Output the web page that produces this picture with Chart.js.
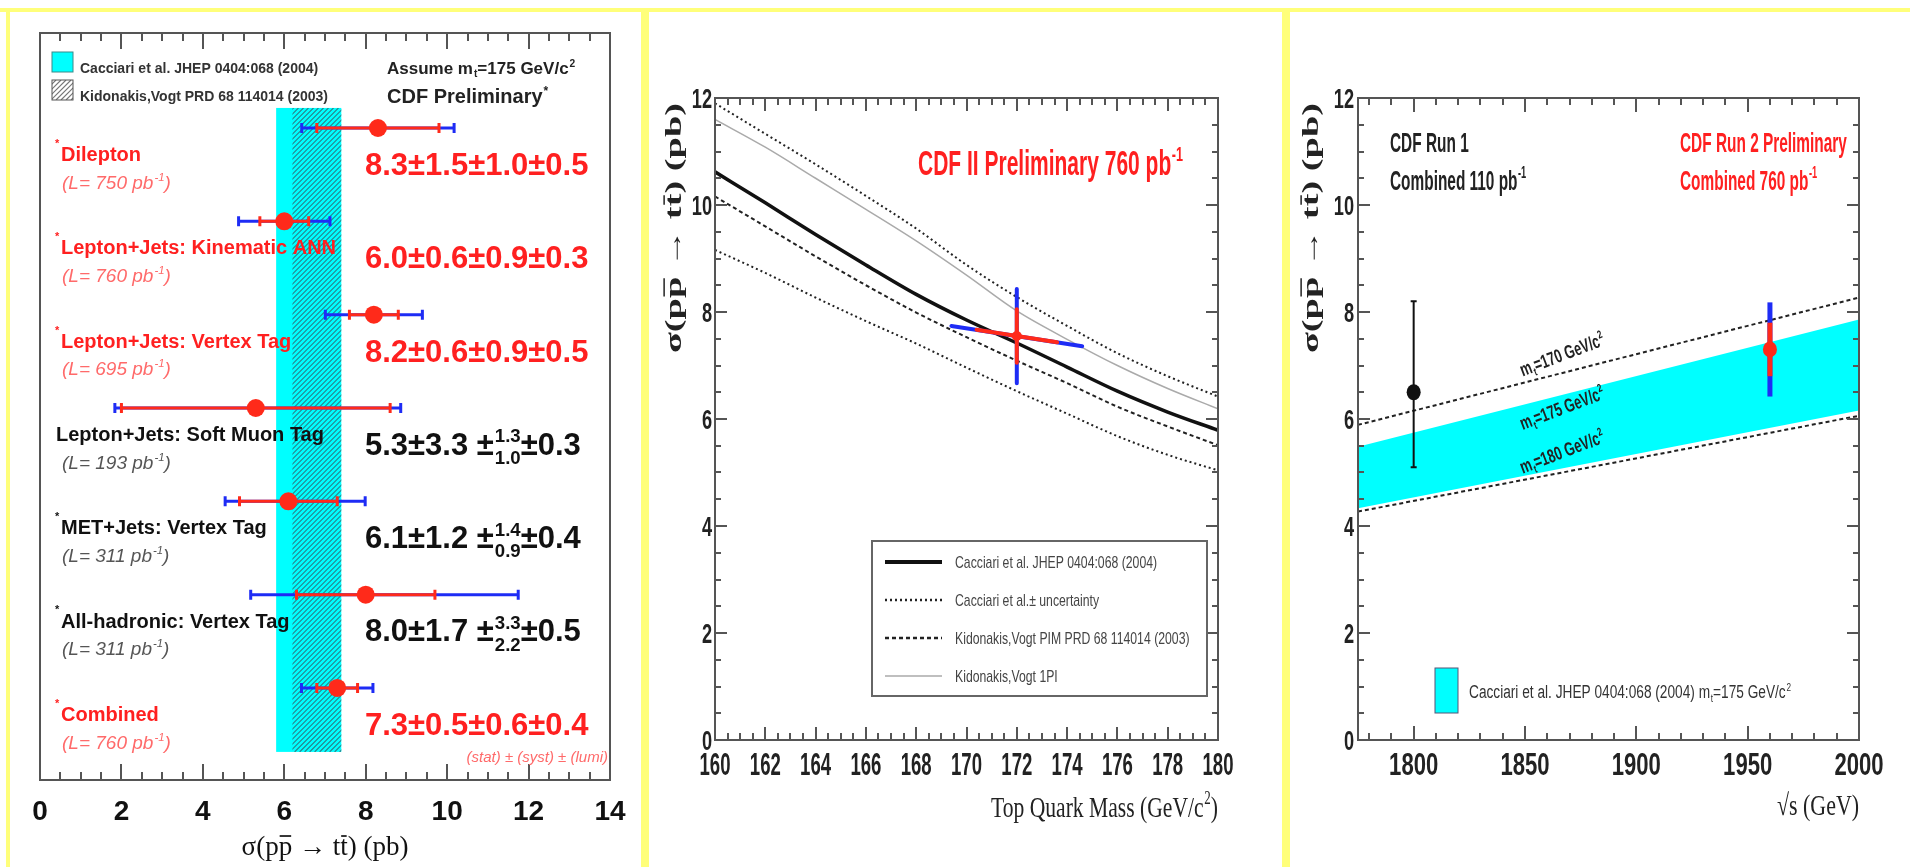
<!DOCTYPE html>
<html>
<head>
<meta charset="utf-8">
<title>CDF top-pair cross section</title>
<script src="https://cdn.jsdelivr.net/npm/chart.js@4.4.1/dist/chart.umd.min.js"></script>
<style>
  html, body { margin: 0; padding: 0; background: #fff; }
  #page { position: relative; width: 1910px; height: 867px; overflow: hidden; background: #fff; }
  canvas { position: absolute; }
  .ybar { position: absolute; background: #ffff7a; }
</style>
</head>
<body>
<div id="page">
  <canvas id="measChart" width="628" height="855" style="left:12px;top:12px"></canvas>
  <canvas id="massChart" width="630" height="855" style="left:650px;top:12px"></canvas>
  <canvas id="energyChart" width="619" height="855" style="left:1291px;top:12px"></canvas>
  <div class="ybar" style="left:0;top:8px;width:1910px;height:4px"></div>
  <div class="ybar" style="left:6px;top:8px;width:4px;height:859px"></div>
  <div class="ybar" style="left:641px;top:8px;width:8px;height:859px"></div>
  <div class="ybar" style="left:1282px;top:8px;width:8px;height:859px"></div>
</div>
<script>
// ---- channel measurements (pb) ----
const channels = ['Dilepton', 'Lepton+Jets: Kinematic ANN', 'Lepton+Jets: Vertex Tag',
  'Lepton+Jets: Soft Muon Tag', 'MET+Jets: Vertex Tag', 'All-hadronic: Vertex Tag', 'Combined'];
const lumis = [750, 760, 695, 193, 311, 311, 760];
const xsec = [8.3, 6.0, 8.2, 5.3, 6.1, 8.0, 7.3];
const statErr = [1.5, 0.6, 0.6, 3.3, 1.2, 1.7, 0.5];
const systUp = [1.0, 0.9, 0.9, 1.3, 1.4, 3.3, 0.6];
const systDown = [1.0, 0.9, 0.9, 1.0, 0.9, 2.2, 0.6];
const lumiErr = [0.5, 0.3, 0.5, 0.3, 0.4, 0.5, 0.4];
const starred = [true, true, true, false, true, true, true];
const redRows = [true, true, true, false, false, false, true];
const cacciariBand = [5.8, 7.4];
const kidonakisBand = [6.2, 7.4];
const sigmaTicks = [0, 2, 4, 6, 8, 10, 12, 14];

// ---- theory vs top mass ----
const topMass = [160, 162, 164, 166, 168, 170, 172, 174, 176, 178, 180];
const cacciariCentral = [10.62, 10.04, 9.45, 8.88, 8.33, 7.85, 7.42, 6.97, 6.52, 6.13, 5.79];
const cacciariUp = [11.9, 11.33, 10.76, 10.17, 9.56, 8.88, 8.28, 7.74, 7.23, 6.8, 6.42];
const cacciariDown = [9.16, 8.73, 8.27, 7.83, 7.41, 6.96, 6.52, 6.1, 5.68, 5.33, 5.04];
const kidonakisPIM = [10.16, 9.6, 9.04, 8.5, 7.99, 7.53, 7.09, 6.67, 6.23, 5.86, 5.51];
const kidonakis1PI = [11.6, 11.08, 10.5, 9.92, 9.33, 8.69, 8.02, 7.49, 7.0, 6.57, 6.19];
const massTicks = [160, 162, 164, 166, 168, 170, 172, 174, 176, 178, 180];
const sigmaAxisTicks = [0, 2, 4, 6, 8, 10, 12];
// measured point at the world-average mass
const measMass = 172.0;
const measSigma = 7.55;
const measStat = 0.5;
const measTot = 0.88;
const measMassStat = [170.4, 173.6];
const measMassTot = [169.4, 174.6];
const measSlope = -0.073; // pb per GeV along the mass error

// ---- theory vs centre-of-mass energy ----
const sqrtS = [1775, 2000];
const mt170 = [5.89, 8.27];
const mt175 = [4.98, 7.09];
const mt180 = [4.27, 6.06];
const bandHigh = [5.48, 7.86];
const bandLow = [4.33, 6.16];
const run1Point = [1800, 6.5];
const run1Err = [1.7, 1.4];
const run2Point = [1960, 7.3];
const run2Stat = 0.5;
const run2Tot = 0.88;
const energyTicks = [1800, 1850, 1900, 1950, 2000];

const SANS = '"Liberation Sans", Arial, sans-serif';
const SERIF = '"Liberation Serif", "Times New Roman", serif';
const RED = '#ff2a1a';
const BLUE = '#1e2cf5';
const CYAN = '#00ffff';

// text with superscripts, subscripts, stacked limits and overbars
function drawRich(ctx, parts, x, y, o) {
  const size = o.size, small = size * 0.6;
  const font = s => `${o.style || 'normal'} ${o.weight || 'normal'} ${s}px ${o.family || SANS}`;
  ctx.save();
  const items = parts.map(p => typeof p === 'string' ? { t: p } : p);
  const widths = items.map(p => {
    if (p.t !== undefined || p.bar !== undefined) { ctx.font = font(size); return ctx.measureText(p.t ?? p.bar).width; }
    ctx.font = font(small);
    if (p.stack) return Math.max(...p.stack.map(s => ctx.measureText(s).width)) + 1;
    return ctx.measureText(p.sup ?? p.sub).width + 1;
  });
  const total = widths.reduce((a, b) => a + b, 0);
  let cx = o.align === 'right' ? -total : o.align === 'center' ? -total / 2 : 0;
  ctx.translate(x, y);
  if (o.rot) ctx.rotate(o.rot);
  ctx.scale(o.sx || 1, 1);
  ctx.fillStyle = o.color || '#000';
  ctx.strokeStyle = o.color || '#000';
  ctx.textAlign = 'left';
  ctx.textBaseline = 'alphabetic';
  const base = size * 0.35 + (o.dy || 0);
  items.forEach((p, i) => {
    if (p.t !== undefined) {
      ctx.font = font(size); ctx.fillText(p.t, cx, base);
    } else if (p.bar !== undefined) {
      ctx.font = font(size); ctx.fillText(p.bar, cx, base);
      ctx.lineWidth = Math.max(1, size / 16);
      ctx.beginPath();
      ctx.moveTo(cx + 1, base - size * 0.72);
      ctx.lineTo(cx + widths[i] - 1, base - size * 0.72);
      ctx.stroke();
    } else {
      ctx.font = font(small);
      if (p.sup !== undefined) ctx.fillText(p.sup, cx + 1, base - size * 0.42);
      if (p.sub !== undefined) ctx.fillText(p.sub, cx + 1, base + size * 0.2);
      if (p.stack) {
        ctx.fillText(p.stack[0], cx + 1, base - size * 0.4);
        ctx.fillText(p.stack[1], cx + 1, base + size * 0.3);
      }
    }
    cx += widths[i];
  });
  ctx.restore();
}

const sigmaTitle = ['σ(p', { bar: 'p' }, ' → t', { bar: 't' }, ') (pb)'];

// frame box with inward ticks on all sides
function drawFrame(chart, xt, yt) {
  const { ctx, chartArea: a, scales } = chart;
  const sx = scales.x, sy = scales.y;
  ctx.save();
  ctx.strokeStyle = '#555';
  ctx.lineWidth = 2;
  ctx.strokeRect(a.left, a.top, a.right - a.left, a.bottom - a.top);
  ctx.fillStyle = '#555';
  const isMajor = (v, m) => Math.abs(v / m - Math.round(v / m)) < 1e-6;
  if (xt) {
    const n = Math.round((xt.to - xt.from) / xt.step);
    for (let k = 0; k <= n; k++) {
      const v = xt.from + k * xt.step;
      const px = Math.round(sx.getPixelForValue(v));
      const len = isMajor(v, xt.major) ? xt.majLen : xt.minLen;
      ctx.fillRect(px - 1, a.bottom - len, 2, len);
      ctx.fillRect(px - 1, a.top, 2, len);
    }
  }
  if (yt) {
    const n = Math.round((yt.to - yt.from) / yt.step);
    for (let k = 0; k <= n; k++) {
      const v = yt.from + k * yt.step;
      const py = Math.round(sy.getPixelForValue(v));
      const len = isMajor(v, yt.major) ? yt.majLen : yt.minLen;
      ctx.fillRect(a.left, py - 1, len, 2);
      ctx.fillRect(a.right - len, py - 1, len, 2);
    }
  }
  ctx.restore();
}

function errBarH(ctx, x1, x2, y, color, w, cap) {
  ctx.save();
  ctx.strokeStyle = color; ctx.lineWidth = w;
  ctx.beginPath();
  ctx.moveTo(x1, y); ctx.lineTo(x2, y);
  ctx.moveTo(x1, y - cap); ctx.lineTo(x1, y + cap);
  ctx.moveTo(x2, y - cap); ctx.lineTo(x2, y + cap);
  ctx.stroke();
  ctx.restore();
}

function hatch(ctx, x, y, w, h, color, step) {
  ctx.save();
  ctx.beginPath(); ctx.rect(x, y, w, h); ctx.clip();
  ctx.strokeStyle = color; ctx.lineWidth = 1.2;
  ctx.beginPath();
  for (let k = -w - h; k < w + h; k += step) {
    ctx.moveTo(x + k, y + h); ctx.lineTo(x + k + h, y);
  }
  ctx.stroke();
  ctx.restore();
}

function fmt(v) { return v.toFixed(1); }

function baseOptions(xr, yr, pad, reverseY) {
  return {
    responsive: false, animation: false, devicePixelRatio: 1, events: [],
    layout: { padding: pad },
    plugins: { legend: { display: false }, tooltip: { enabled: false } },
    scales: {
      x: { type: 'linear', min: xr[0], max: xr[1], display: false },
      y: { type: 'linear', min: yr[0], max: yr[1], reverse: !!reverseY, display: false }
    }
  };
}

// ================= panel 1: channel summary =================
const measPlugin = {
  id: 'measDecor',
  beforeDatasetsDraw(chart) {
    const { ctx, scales: { x, y } } = chart;
    const yTop = y.getPixelForValue(-0.215), yBot = y.getPixelForValue(6.685);
    const c0 = x.getPixelForValue(cacciariBand[0]), c1 = x.getPixelForValue(cacciariBand[1]);
    ctx.fillStyle = CYAN;
    ctx.fillRect(c0, yTop, c1 - c0, yBot - yTop);
    const k0 = x.getPixelForValue(kidonakisBand[0]), k1 = x.getPixelForValue(kidonakisBand[1]);
    hatch(ctx, k0, yTop, k1 - k0, yBot - yTop, '#2a7f86', 5);

    xsec.forEach((v, i) => {
      const py = y.getPixelForValue(i);
      const up = Math.hypot(statErr[i], systUp[i], lumiErr[i]);
      const dn = Math.hypot(statErr[i], systDown[i], lumiErr[i]);
      errBarH(ctx, x.getPixelForValue(v - dn), x.getPixelForValue(v + up), py, BLUE, 3, 5);
      errBarH(ctx, x.getPixelForValue(v - statErr[i]), x.getPixelForValue(v + statErr[i]), py, RED, 3, 5);
    });
  },
  afterDraw(chart) {
    const { ctx, chartArea: a, scales: { x, y } } = chart;
    drawFrame(chart, { from: 0, to: 14, step: 0.5, major: 2, majLen: 16, minLen: 8 }, null);

    // legend
    ctx.fillStyle = CYAN;
    ctx.fillRect(a.left + 12, a.top + 19, 21, 20);
    ctx.strokeStyle = '#3a8a8a'; ctx.lineWidth = 1;
    ctx.strokeRect(a.left + 12, a.top + 19, 21, 20);
    ctx.fillStyle = '#fff';
    ctx.fillRect(a.left + 12, a.top + 47, 21, 20);
    hatch(ctx, a.left + 12, a.top + 47, 21, 20, '#777', 5);
    ctx.strokeStyle = '#555';
    ctx.strokeRect(a.left + 12, a.top + 47, 21, 20);
    drawRich(ctx, ['Cacciari et al. JHEP 0404:068 (2004)'], a.left + 40, a.top + 35,
      { size: 14, weight: 'bold', color: '#333' });
    drawRich(ctx, ['Kidonakis,Vogt PRD 68 114014 (2003)'], a.left + 40, a.top + 63,
      { size: 14, weight: 'bold', color: '#333' });
    drawRich(ctx, ['Assume m', { sub: 't' }, '=175 GeV/c', { sup: '2' }], a.left + 347, a.top + 35,
      { size: 17, weight: 'bold', color: '#222' });
    drawRich(ctx, ['CDF Preliminary', { sup: '*' }], a.left + 347, a.top + 63,
      { size: 20, weight: 'bold', color: '#222' });

    // row labels
    channels.forEach((name, i) => {
      const ry = y.getPixelForValue(i);
      const col = redRows[i] ? '#ff2020' : '#111';
      const soft = redRows[i] ? '#ff6a6a' : '#555';
      if (starred[i]) drawRich(ctx, ['*'], a.left + 15, ry + 15, { size: 11, weight: 'bold', color: col });
      drawRich(ctx, [name], a.left + (starred[i] ? 21 : 16), ry + 26, { size: 20, weight: 'bold', color: col });
      drawRich(ctx, ['(L= ' + lumis[i] + ' pb', { sup: '-1' }, ')'], a.left + 22, ry + 54,
        { size: 19, style: 'italic', color: soft });
      let parts;
      if (systUp[i] === systDown[i]) {
        parts = [fmt(xsec[i]) + '±' + fmt(statErr[i]) + '±' + fmt(systUp[i]) + '±' + fmt(lumiErr[i])];
      } else {
        parts = [fmt(xsec[i]) + '±' + fmt(statErr[i]) + ' ±', { stack: [fmt(systUp[i]), fmt(systDown[i])] },
          '±' + fmt(lumiErr[i])];
      }
      drawRich(ctx, parts, a.left + 325, ry + 36, { size: 31, weight: 'bold', color: col });
    });
    drawRich(ctx, ['(stat) ± (syst) ± (lumi)'], a.right - 2, a.bottom - 23,
      { size: 15, style: 'italic', color: '#ff6a6a', align: 'right' });

    // axis
    sigmaTicks.forEach(v => {
      drawRich(ctx, [String(v)], x.getPixelForValue(v), a.bottom + 30,
        { size: 28, weight: 'bold', color: '#111', align: 'center' });
    });
    drawRich(ctx, sigmaTitle, (a.left + a.right) / 2, a.bottom + 66,
      { size: 27, family: SERIF, color: '#111', align: 'center' });
  }
};

new Chart(document.getElementById('measChart'), {
  type: 'scatter',
  data: {
    datasets: [{
      data: xsec.map((v, i) => ({ x: v, y: i })),
      pointRadius: 9, pointBackgroundColor: RED, pointBorderWidth: 0
    }]
  },
  options: baseOptions([0, 14], [-1.018, 6.986], { left: 28, top: 21, right: 30, bottom: 87 }, true),
  plugins: [measPlugin]
});

// ================= panel 2: cross section vs top mass =================
function curve(values, color, width, dash) {
  return {
    data: topMass.map((m, i) => ({ x: m, y: values[i] })),
    showLine: true, borderColor: color, borderWidth: width, borderDash: dash,
    pointRadius: 0, cubicInterpolationMode: 'monotone', fill: false
  };
}

const massLegend = [
  { label: 'Cacciari et al. JHEP 0404:068 (2004)', color: '#111', width: 4, dash: [] },
  { label: 'Cacciari et al.± uncertainty', color: '#222', width: 2.5, dash: [2, 3] },
  { label: 'Kidonakis,Vogt PIM PRD 68 114014 (2003)', color: '#222', width: 2.5, dash: [4, 3] },
  { label: 'Kidonakis,Vogt 1PI', color: '#aaa', width: 1.5, dash: [] }
];

const massPlugin = {
  id: 'massDecor',
  afterDatasetsDraw(chart) {
    const { ctx, scales: { x, y } } = chart;
    const px = x.getPixelForValue(measMass);
    const along = m => y.getPixelForValue(measSigma + measSlope * (m - measMass));
    ctx.save();
    ctx.lineCap = 'round';
    ctx.strokeStyle = BLUE; ctx.lineWidth = 4;
    ctx.beginPath();
    ctx.moveTo(px, y.getPixelForValue(measSigma - measTot));
    ctx.lineTo(px, y.getPixelForValue(measSigma + measTot));
    ctx.moveTo(x.getPixelForValue(measMassTot[0]), along(measMassTot[0]));
    ctx.lineTo(x.getPixelForValue(measMassTot[1]), along(measMassTot[1]));
    ctx.stroke();
    ctx.strokeStyle = RED;
    ctx.beginPath();
    ctx.moveTo(px, y.getPixelForValue(measSigma - measStat));
    ctx.lineTo(px, y.getPixelForValue(measSigma + measStat));
    ctx.moveTo(x.getPixelForValue(measMassStat[0]), along(measMassStat[0]));
    ctx.lineTo(x.getPixelForValue(measMassStat[1]), along(measMassStat[1]));
    ctx.stroke();
    ctx.fillStyle = RED;
    ctx.beginPath(); ctx.arc(px, y.getPixelForValue(measSigma), 5, 0, Math.PI * 2); ctx.fill();
    ctx.restore();
  },
  afterDraw(chart) {
    const { ctx, chartArea: a, scales: { x, y } } = chart;
    drawFrame(chart,
      { from: 160, to: 180, step: 0.5, major: 2, majLen: 13, minLen: 7 },
      { from: 0, to: 12, step: 0.5, major: 2, majLen: 12, minLen: 6 });

    sigmaAxisTicks.forEach(v => {
      drawRich(ctx, [String(v)], a.left - 3, y.getPixelForValue(v),
        { size: 28, weight: 'bold', color: '#222', align: 'right', sx: 0.65 });
    });
    massTicks.forEach(v => {
      drawRich(ctx, [String(v)], x.getPixelForValue(v), a.bottom + 24,
        { size: 32, weight: 'bold', color: '#222', align: 'center', sx: 0.58 });
    });
    drawRich(ctx, ['Top Quark Mass (GeV/c', { sup: '2' }, ')'], a.right, a.bottom + 66,
      { size: 30, family: SERIF, color: '#222', align: 'right', sx: 0.72 });
    drawRich(ctx, sigmaTitle, a.left - 42, a.top + 130,
      { size: 24, weight: 'bold', family: SERIF, color: '#222', align: 'center', rot: -Math.PI / 2, sx: 1.6 });
    drawRich(ctx, ['CDF II Preliminary 760 pb', { sup: '-1' }], a.left + 203, a.top + 65,
      { size: 35, weight: 'bold', color: '#ff2020', sx: 0.6 });

    // legend box
    const bx = a.left + 157, by = a.top + 443, bw = 335, bh = 155;
    ctx.save();
    ctx.fillStyle = '#fff'; ctx.fillRect(bx, by, bw, bh);
    ctx.strokeStyle = '#666'; ctx.lineWidth = 2; ctx.strokeRect(bx, by, bw, bh);
    massLegend.forEach((e, i) => {
      const ly = by + 21 + i * 38;
      ctx.strokeStyle = e.color; ctx.lineWidth = e.width; ctx.setLineDash(e.dash);
      ctx.beginPath(); ctx.moveTo(bx + 13, ly); ctx.lineTo(bx + 70, ly); ctx.stroke();
      ctx.setLineDash([]);
      drawRich(ctx, [e.label], bx + 83, ly, { size: 17, color: '#444', sx: 0.72 });
    });
    ctx.restore();
  }
};

new Chart(document.getElementById('massChart'), {
  type: 'scatter',
  data: {
    datasets: [
      curve(kidonakis1PI, '#aaa', 1.5, []),
      curve(cacciariUp, '#222', 2, [2, 3]),
      curve(cacciariDown, '#222', 2, [2, 3]),
      curve(kidonakisPIM, '#222', 2, [4, 3]),
      curve(cacciariCentral, '#111', 3.5, [])
    ]
  },
  options: baseOptions([160, 180], [0, 12], { left: 65, top: 86, right: 62, bottom: 127 }),
  plugins: [massPlugin]
});

// ================= panel 3: cross section vs sqrt(s) =================
function straight(values, extra) {
  return Object.assign({
    data: sqrtS.map((s, i) => ({ x: s, y: values[i] })),
    showLine: true, pointRadius: 0, borderColor: '#222', borderWidth: 2,
    borderDash: [4, 3], fill: false
  }, extra || {});
}

const mtLines = [['170', mt170], ['175', mt175], ['180', mt180]];

const energyPlugin = {
  id: 'energyDecor',
  afterDatasetsDraw(chart) {
    const { ctx, scales: { x, y } } = chart;
    ctx.save();
    // Run 1
    const x1 = x.getPixelForValue(run1Point[0]);
    ctx.strokeStyle = '#111'; ctx.lineWidth = 2;
    ctx.beginPath();
    ctx.moveTo(x1, y.getPixelForValue(run1Point[1] - run1Err[1]));
    ctx.lineTo(x1, y.getPixelForValue(run1Point[1] + run1Err[0]));
    [run1Point[1] - run1Err[1], run1Point[1] + run1Err[0]].forEach(v => {
      ctx.moveTo(x1 - 3, y.getPixelForValue(v)); ctx.lineTo(x1 + 3, y.getPixelForValue(v));
    });
    ctx.stroke();
    ctx.fillStyle = '#111';
    ctx.beginPath(); ctx.ellipse(x1, y.getPixelForValue(run1Point[1]), 7, 8, 0, 0, Math.PI * 2); ctx.fill();
    // Run 2
    const x2 = x.getPixelForValue(run2Point[0]);
    ctx.lineWidth = 5;
    ctx.strokeStyle = BLUE;
    ctx.beginPath();
    ctx.moveTo(x2, y.getPixelForValue(run2Point[1] - run2Tot));
    ctx.lineTo(x2, y.getPixelForValue(run2Point[1] + run2Tot));
    ctx.stroke();
    ctx.strokeStyle = RED;
    ctx.beginPath();
    ctx.moveTo(x2, y.getPixelForValue(run2Point[1] - run2Stat));
    ctx.lineTo(x2, y.getPixelForValue(run2Point[1] + run2Stat));
    ctx.stroke();
    ctx.fillStyle = RED;
    ctx.beginPath(); ctx.ellipse(x2, y.getPixelForValue(run2Point[1]), 7, 8, 0, 0, Math.PI * 2); ctx.fill();
    ctx.restore();

    // mass labels along the dotted lines
    const at = 1850;
    const f = (at - sqrtS[0]) / (sqrtS[1] - sqrtS[0]);
    mtLines.forEach(([m, vals]) => {
      const v = vals[0] + f * (vals[1] - vals[0]);
      drawRich(ctx, ['m', { sub: 't' }, '=' + m + ' GeV/c', { sup: '2' }], x.getPixelForValue(at), y.getPixelForValue(v),
        { size: 19, weight: 'bold', color: '#222', rot: -21 * Math.PI / 180, sx: 0.68, dy: -13 });
    });
  },
  afterDraw(chart) {
    const { ctx, chartArea: a, scales: { x, y } } = chart;
    drawFrame(chart,
      { from: 1780, to: 2000, step: 10, major: 50, majLen: 14, minLen: 7 },
      { from: 0, to: 12, step: 0.5, major: 2, majLen: 12, minLen: 6 });

    sigmaAxisTicks.forEach(v => {
      drawRich(ctx, [String(v)], a.left - 4, y.getPixelForValue(v),
        { size: 28, weight: 'bold', color: '#222', align: 'right', sx: 0.65 });
    });
    energyTicks.forEach(v => {
      drawRich(ctx, [String(v)], x.getPixelForValue(v), a.bottom + 24,
        { size: 32, weight: 'bold', color: '#222', align: 'center', sx: 0.69 });
    });
    drawRich(ctx, ['√s (GeV)'], a.right, a.bottom + 64,
      { size: 30, family: SERIF, color: '#222', align: 'right', sx: 0.73 });
    drawRich(ctx, sigmaTitle, a.left - 48, a.top + 130,
      { size: 24, weight: 'bold', family: SERIF, color: '#222', align: 'center', rot: -Math.PI / 2, sx: 1.6 });

    drawRich(ctx, ['CDF Run 1'], a.left + 32, a.top + 44, { size: 28, weight: 'bold', color: '#222', sx: 0.55 });
    drawRich(ctx, ['Combined 110 pb', { sup: '-1' }], a.left + 32, a.top + 82,
      { size: 28, weight: 'bold', color: '#222', sx: 0.55 });
    drawRich(ctx, ['CDF Run 2 Preliminary'], a.left + 322, a.top + 44,
      { size: 28, weight: 'bold', color: '#ff2020', sx: 0.55 });
    drawRich(ctx, ['Combined 760 pb', { sup: '-1' }], a.left + 322, a.top + 82,
      { size: 28, weight: 'bold', color: '#ff2020', sx: 0.55 });

    ctx.fillStyle = CYAN;
    ctx.fillRect(a.left + 77, a.top + 570, 23, 45);
    ctx.strokeStyle = '#557'; ctx.lineWidth = 1;
    ctx.strokeRect(a.left + 77, a.top + 570, 23, 45);
    drawRich(ctx, ['Cacciari et al. JHEP 0404:068 (2004) m', { sub: 't' }, '=175 GeV/c', { sup: '2' }],
      a.left + 111, a.top + 594, { size: 18, color: '#333', sx: 0.76 });
  }
};

new Chart(document.getElementById('energyChart'), {
  type: 'scatter',
  data: {
    datasets: [
      straight(bandLow, { borderWidth: 0, borderDash: [] }),
      straight(bandHigh, { borderWidth: 0, borderDash: [], fill: '-1', backgroundColor: CYAN }),
      straight(mt170),
      straight(mt175),
      straight(mt180)
    ]
  },
  options: baseOptions([1775, 2000], [0, 12], { left: 67, top: 86, right: 51, bottom: 127 }),
  plugins: [energyPlugin]
});
</script>
</body>
</html>
